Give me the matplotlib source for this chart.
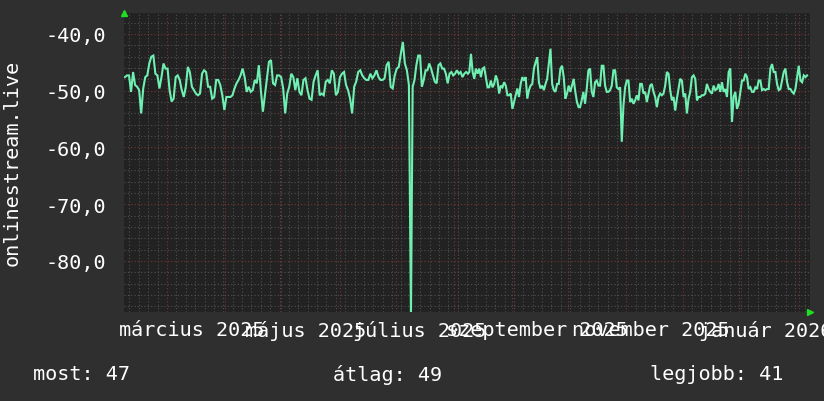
import numpy as np
import pandas as pd
import matplotlib
matplotlib.use("Agg")
import matplotlib.pyplot as plt
import matplotlib.dates as mdates
from matplotlib.transforms import blended_transform_factory

# values, in four stretches of time
vals_feb_jul = [-47.6, -47.3, -47.3, -50.2, -46.7, -49.0, -49.3, -49.9, -54.0, -49.6,
                -47.6, -47.3, -45.2, -44.0, -43.8, -47.0, -47.3, -49.6, -47.6, -45.2,
                -46.1, -46.1, -49.9, -51.9, -51.4, -47.6, -47.3, -48.1, -49.9, -51.1,
                -49.3, -45.8, -46.7, -49.3, -49.9, -50.5, -50.8, -50.5, -47.0, -46.4,
                -46.7, -49.3, -49.3, -51.4, -51.1, -48.1, -48.1, -49.0, -50.8, -53.4,
                -51.1, -51.1, -51.1, -50.8, -49.6, -48.7, -48.1, -47.3, -46.1, -47.6,
                -50.2, -49.3, -50.2, -49.9, -48.1, -48.7, -45.5, -49.9, -53.7, -50.8,
                -47.8, -44.9, -44.6, -48.7, -49.0, -47.3, -47.3, -47.6, -49.6, -54.0,
                -50.5, -49.3, -47.0, -47.6, -49.9, -47.8, -50.2, -50.8, -48.1, -47.8,
                -49.9, -51.4, -51.6, -48.4, -47.3, -46.4, -50.8, -50.5, -50.8, -48.4,
                -48.1, -48.7, -46.4, -47.0, -50.8, -50.2, -47.6, -47.0, -46.7, -49.0,
                -49.9, -51.4, -54.0, -49.3, -48.4, -46.7, -46.4, -47.3, -47.8, -48.1,
                -48.1, -47.0, -47.8, -47.3, -46.4, -47.6, -48.1, -48.1, -47.8, -45.5,
                -44.9, -49.3, -49.6, -47.3, -46.1, -45.8, -43.5, -41.4, -45.2, -46.4,
                -49.0, -90.0]
vals_jul_aug = [-49.3, -48.1, -45.5, -43.8, -43.8, -49.3, -48.1, -46.4, -46.4, -45.2,
                -46.1, -47.3, -48.4, -48.7, -45.5, -45.2, -46.1, -46.1, -47.0, -48.7,
                -47.0, -46.7, -47.3, -47.0, -46.4, -47.0, -46.7, -47.6, -47.0, -46.7,
                -47.0]
vals_aug_oct = [-46.7, -43.5, -46.7, -47.9, -46.1, -47.0, -46.1, -47.6, -46.1, -45.9,
                -47.6, -49.4, -49.4, -48.2, -49.4, -48.8, -47.3, -48.2, -50.5, -49.1,
                -49.4, -48.5, -49.1, -50.8, -50.8, -50.5, -53.2, -52.0, -50.8, -49.6,
                -51.1, -48.8, -47.6, -48.2, -47.6, -51.4, -49.9, -49.1, -48.8, -46.1,
                -45.0, -44.1, -48.5, -49.6, -49.1, -49.9, -48.8, -47.9, -45.3, -42.6,
                -48.8, -49.9, -50.2, -48.8, -48.8, -46.1, -45.6, -47.6, -51.4, -50.5,
                -49.1, -50.2, -49.1, -47.9, -50.2, -52.0, -52.9]
vals_oct_feb = [-52.9, -51.7, -50.2, -52.3, -49.7, -46.4, -46.1, -50.2, -51.1, -48.5,
                -48.2, -49.1, -49.1, -45.6, -45.6, -49.1, -50.2, -50.2, -49.9, -49.1,
                -46.4, -46.4, -49.4, -49.7, -49.4, -59.0, -52.6, -49.4, -48.2, -48.2,
                -52.0, -51.4, -52.3, -51.7, -50.8, -51.7, -48.8, -48.8, -50.5, -50.2,
                -52.0, -50.5, -49.1, -48.8, -50.2, -51.1, -52.9, -51.1, -50.5, -50.8,
                -50.5, -49.1, -46.7, -47.0, -49.9, -51.7, -51.1, -53.5, -51.4, -49.7,
                -47.9, -48.2, -51.1, -50.5, -54.0, -51.4, -50.2, -47.6, -47.3, -47.9,
                -51.7, -51.1, -51.1, -50.8, -50.8, -50.5, -48.8, -49.7, -50.2, -50.5,
                -49.1, -49.9, -49.7, -48.8, -50.2, -48.5, -50.2, -49.7, -51.1, -46.7,
                -46.1, -55.5, -51.1, -50.2, -53.2, -52.3, -50.2, -48.2, -48.2, -47.0,
                -47.6, -49.7, -49.4, -50.2, -50.2, -49.4, -49.7, -48.2, -48.2, -49.9,
                -49.7, -49.9, -49.7, -49.7, -46.1, -45.3, -46.7, -46.7, -48.8, -49.9,
                -49.7, -48.2, -46.7, -46.1, -48.5, -49.7, -49.7, -50.2, -50.5, -49.7,
                -47.6, -45.6, -48.2, -48.5, -47.3, -47.6, -47.3]

spans = [("2025-02-06 14:00", "2025-07-09 02:00", vals_feb_jul),
         ("2025-07-10 00:00", "2025-08-08 12:00", vals_jul_aug),
         ("2025-08-09 05:00", "2025-10-06 12:00", vals_aug_oct),
         ("2025-10-07 06:00", "2026-02-05 08:00", vals_oct_feb)]

x_labels = ["március 2025", "május 2025", "július 2025",
            "szeptember 2025", "november 2025", "január 2026"]
x_label_dates = ["2025-03-14", "2025-05-14", "2025-07-14",
                 "2025-09-14", "2025-11-14", "2026-01-14"]
y_ticks = [-40, -50, -60, -70, -80]
legend_items = [("most: 47", 33), ("átlag: 49", 333), ("legjobb: 41", 650)]

times = pd.DatetimeIndex(np.concatenate(
    [pd.date_range(a, b, periods=len(v)).values for a, b, v in spans]))
values = np.concatenate([v for _, _, v in spans])

BG = "#2f2f2f"
PLOT_BG = "#222222"
FONT = "DejaVu Sans Mono"
FS = 14.5

fig = plt.figure(figsize=(8.24, 4.02), dpi=100, facecolor=BG)
ax = fig.add_axes([124 / 824, 1 - 313 / 402, 686 / 824, 299 / 402])
ax.set_facecolor(PLOT_BG)

ax.set_xlim(pd.Timestamp("2025-02-06 01:40"), pd.Timestamp("2026-02-06 21:00"))
ax.set_ylim(-89.0, -36.3)

# grid
ax.xaxis.set_major_locator(mdates.MonthLocator())
ax.xaxis.set_minor_locator(mdates.DayLocator(interval=5))
ax.yaxis.set_major_locator(plt.FixedLocator(y_ticks))
ax.yaxis.set_minor_locator(plt.MultipleLocator(2))
ax.grid(which="minor", color="#505050", linestyle=(0, (1, 2)), linewidth=0.8)
ax.grid(which="major", color="#7a3636", linestyle=(0, (1, 2)), linewidth=0.8)
ax.set_axisbelow(True)

ax.plot(times, values, color="#6ff0b2", linewidth=1.5, solid_joinstyle="miter")

ax.set_yticks(y_ticks)
ax.set_yticklabels([f"{t:.1f}".replace(".", ",") for t in y_ticks],
                   fontfamily=FONT, fontsize=FS, color="white")
ax.tick_params(axis="y", which="both", length=0, pad=13)
ax.tick_params(axis="x", which="both", length=0, labelbottom=False)
for s in ax.spines.values():
    s.set_visible(False)

tr = blended_transform_factory(ax.transData, fig.transFigure)
for lab, d in zip(x_labels, x_label_dates):
    ax.text(pd.Timestamp(d), 1 - 331 / 402, lab, transform=tr, ha="center",
            va="center", fontfamily=FONT, fontsize=FS, color="white", clip_on=False)

fig.text(12 / 824, 1 - 163 / 402, "onlinestream.live", rotation=90, ha="center",
         va="center", fontfamily=FONT, fontsize=FS, color="white")

for txt, px in legend_items:
    fig.text(px / 824, 1 - 375 / 402, txt, ha="left", va="center",
             fontfamily=FONT, fontsize=FS, color="white")

# little rrdtool style arrows
ax.plot([0], [1.0], marker="^", color="#22dd22", markersize=4,
        transform=ax.transAxes, clip_on=False, linestyle="none")
ax.plot([1.0], [0], marker=">", color="#22dd22", markersize=4,
        transform=ax.transAxes, clip_on=False, linestyle="none")

fig.savefig("out.png", dpi=100, facecolor=BG)
